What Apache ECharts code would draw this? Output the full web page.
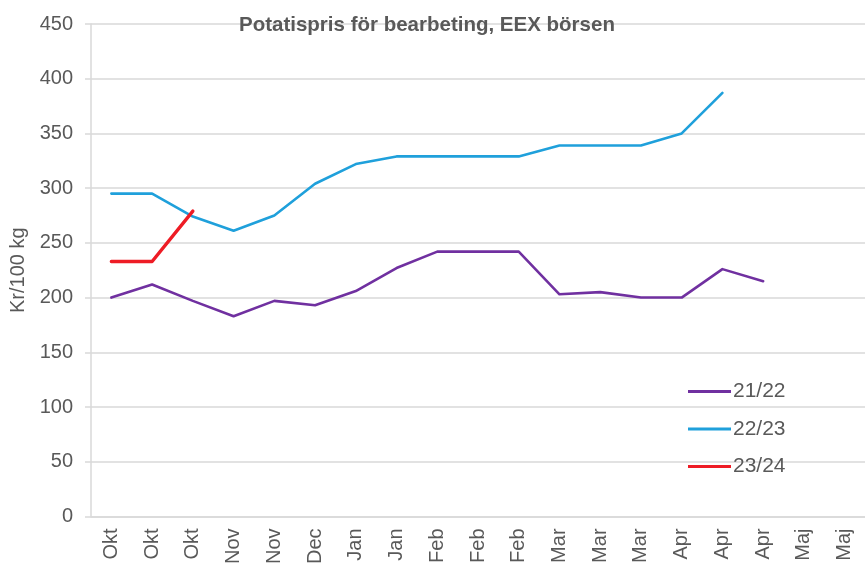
<!DOCTYPE html>
<html>
<head>
<meta charset="utf-8">
<script src="https://cdn.jsdelivr.net/npm/echarts@6/dist/echarts.min.js"></script>
<style>
  html, body { margin: 0; padding: 0; background: #fff; }
  #chart { width: 865px; height: 567px; }
</style>
</head>
<body>
<div id="chart"></div>
<script>
// Månader (kategorier längs x-axeln)
const months = ['Okt', 'Okt', 'Okt', 'Nov', 'Nov', 'Dec', 'Jan', 'Jan', 'Feb', 'Feb',
                'Feb', 'Mar', 'Mar', 'Mar', 'Apr', 'Apr', 'Apr', 'Maj', 'Maj'];

// Pris i kr/100 kg per säsong
const season2122 = [200, 212, 197, 183, 197, 193, 206, 227, 242, 242, 242, 203, 205, 200, 200, 226, 215];
const season2223 = [295, 295, 274, 261, 275, 304, 322, 329, 329, 329, 329, 339, 339, 339, 350, 387];
const season2324 = [233, 233, 279];

const seriesNames = ['21/22', '22/23', '23/24'];
const seriesColors = ['#7030a0', '#1fa0db', '#ee1c25'];

const chart = echarts.init(document.getElementById('chart'), null, { renderer: 'canvas' });

const textColor = '#595959';
const fontFamily = '"Liberation Sans", Arial, sans-serif';

function makeLine(name, data, color, width) {
    return {
        name: name,
        type: 'line',
        data: data,
        symbol: 'none',
        smooth: false,
        itemStyle: { color: color },
        lineStyle: { color: color, width: width, cap: 'round', join: 'round' }
    };
}

const option = {
    backgroundColor: '#fff',
    animation: false,
    title: {
        text: 'Potatispris för bearbeting, EEX börsen',
        left: 234,
        top: 10,
        textStyle: { color: textColor, fontSize: 20.5, fontWeight: 'bold', fontFamily: fontFamily }
    },
    legend: {
        orient: 'vertical',
        left: 688,
        top: 381,
        padding: 0,
        itemGap: 16.5,
        icon: 'rect',
        itemWidth: 43,
        itemHeight: 3,
        textStyle: { color: textColor, fontSize: 21, fontFamily: fontFamily, padding: [0, 0, 0, -3] },
        data: seriesNames
    },
    grid: {
        left: 91,
        right: 0,
        top: 24,
        bottom: 50,
        containLabel: false
    },
    xAxis: {
        type: 'category',
        data: months,
        boundaryGap: true,
        axisLine: { show: true, lineStyle: { color: '#d9d9d9', width: 1.5 } },
        axisTick: { show: false },
        axisLabel: {
            rotate: 90,
            interval: 0,
            margin: 12,
            color: textColor,
            fontSize: 20,
            fontFamily: fontFamily
        },
        splitLine: { show: false }
    },
    yAxis: {
        type: 'value',
        min: 0,
        max: 450,
        interval: 50,
        name: 'Kr/100 kg',
        nameLocation: 'middle',
        nameRotate: 90,
        nameGap: 60,
        nameTextStyle: { color: textColor, fontSize: 20, fontFamily: fontFamily },
        axisLine: { show: true, lineStyle: { color: '#d9d9d9', width: 1.5 } },
        axisTick: { show: true, length: 6, lineStyle: { color: '#d9d9d9', width: 1.5 } },
        axisLabel: { color: textColor, fontSize: 20, fontFamily: fontFamily, margin: 18 },
        splitLine: { show: true, lineStyle: { color: '#d9d9d9', width: 1.5 } }
    },
    series: [
        makeLine(seriesNames[0], season2122, seriesColors[0], 2.6),
        makeLine(seriesNames[1], season2223, seriesColors[1], 2.6),
        makeLine(seriesNames[2], season2324, seriesColors[2], 3.4)
    ]
};

chart.setOption(option);
</script>
</body>
</html>
